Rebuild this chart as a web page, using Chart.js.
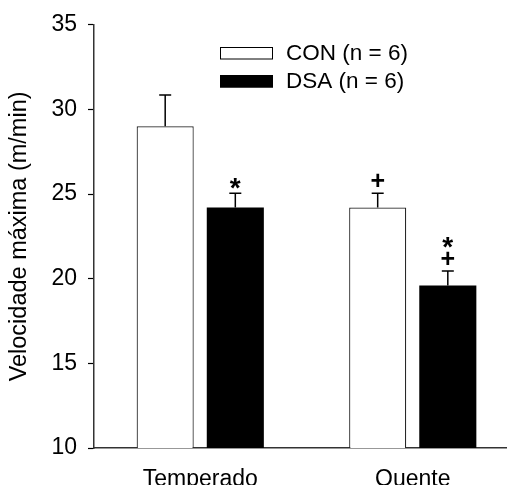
<!DOCTYPE html>
<html>
<head>
<meta charset="utf-8">
<script src="https://cdn.jsdelivr.net/npm/chart.js@4.4.1/dist/chart.umd.min.js"></script>
<style>
  html, body { margin: 0; padding: 0; background: #fff; overflow: hidden; }
  #wrap { width: 520px; height: 485px; }
</style>
</head>
<body>
<div id="wrap"><canvas id="myChart"></canvas></div>
<script>
const groups = ['Temperado', 'Quente'];
const conMean = [29.0, 24.2];
const conErr = [1.85, 0.85];
const conMarks = ['', '+'];
const dsaMean = [24.2, 19.6];
const dsaErr = [0.85, 0.85];
const dsaMarks = ['*', '+*'];
const yTicks = [10, 15, 20, 25, 30, 35];

const FONT = 'Liberation Sans, Arial, sans-serif';

// error bars (upper only) and significance marks
const errPlugin = {
    id: 'errs',
    afterDatasetsDraw(chart) {
        const ctx = chart.ctx;
        const y = chart.scales.y;
        ctx.save();
        ctx.strokeStyle = '#000';
        ctx.lineWidth = 1.5;
        chart.data.datasets.forEach((ds, i) => {
            const meta = chart.getDatasetMeta(i);
            meta.data.forEach((bar, j) => {
                const top = y.getPixelForValue(ds.data[j] + ds.errors[j]);
                ctx.beginPath();
                ctx.moveTo(bar.x, bar.y);
                ctx.lineTo(bar.x, top);
                ctx.moveTo(bar.x - 6, top);
                ctx.lineTo(bar.x + 6, top);
                ctx.stroke();
                const marks = ds.marks[j];
                ctx.fillStyle = '#000';
                ctx.textAlign = 'center';
                ctx.textBaseline = 'middle';
                for (let k = 0; k < marks.length; k++) {
                    const c = marks[k];
                    const cy = top - 11 - k * 19;
                    if (c === '*') {
                        ctx.font = 'bold 28px ' + FONT;
                        ctx.fillText(c, bar.x, cy + 7);
                    } else {
                        ctx.font = 'bold 25px ' + FONT;
                        ctx.fillText(c, bar.x, cy);
                    }
                }
            });
        });
        ctx.restore();
    }
};

// legend drawn inside the plot
const legendPlugin = {
    id: 'inLegend',
    afterDraw(chart) {
        const ctx = chart.ctx;
        ctx.save();
        chart.data.datasets.forEach((ds, i) => {
            const yy = 47 + i * 28;
            ctx.fillStyle = ds.backgroundColor;
            ctx.fillRect(220, yy, 53, 12.5);
            ctx.strokeStyle = '#000';
            ctx.lineWidth = 1;
            ctx.strokeRect(220.5, yy + 0.5, 52, 11.5);
            ctx.fillStyle = '#000';
            ctx.font = '22.5px ' + FONT;
            ctx.textAlign = 'left';
            ctx.textBaseline = 'middle';
            ctx.fillText(ds.label, 286, yy + 7);
        });
        ctx.restore();
    }
};

const data = {
    labels: groups,
    datasets: [{
        label: 'CON (n = 6)',
        data: conMean,
        errors: conErr,
        marks: conMarks,
        backgroundColor: '#fff',
        borderColor: '#222',
        borderWidth: 1.2,
        borderSkipped: 'bottom'
    }, {
        label: 'DSA (n = 6)',
        data: dsaMean,
        errors: dsaErr,
        marks: dsaMarks,
        backgroundColor: '#000',
        borderColor: '#000',
        borderWidth: 0
    }]
};

const config = {
    type: 'bar',
    data: data,
    options: {
        responsive: true,
        maintainAspectRatio: false,
        animation: false,
        categoryPercentage: 0.66,
        barPercentage: 0.814,
        layout: { padding: { top: 24, right: 1, left: 0, bottom: 0 } },
        plugins: { legend: { display: false }, tooltip: { enabled: false } },
        scales: {
            x: {
                grid: { display: false, drawTicks: false },
                border: { display: true, color: '#333', width: 1.5 },
                ticks: { color: '#000', font: { family: FONT, size: 23 }, padding: 18 },
                afterFit(scale) { scale.height = 37; }
            },
            y: {
                min: 10,
                max: 35,
                afterBuildTicks(scale) { scale.ticks = yTicks.map(v => ({ value: v })); },
                grid: { drawOnChartArea: false, tickLength: 6, tickColor: '#000', tickWidth: 1.2 },
                border: { display: true, color: '#333', width: 1.5 },
                ticks: { color: '#000', font: { family: FONT, size: 23 }, padding: 11 },
                title: {
                    display: true,
                    text: 'Velocidade máxima (m/min)',
                    color: '#000',
                    font: { family: FONT, size: 23.5 },
                    padding: { top: 5, bottom: 0 }
                },
                afterFit(scale) { scale.width = 94; }
            }
        }
    },
    plugins: [errPlugin, legendPlugin]
};

const myChart = new Chart(document.getElementById('myChart'), config);
</script>
</body>
</html>
